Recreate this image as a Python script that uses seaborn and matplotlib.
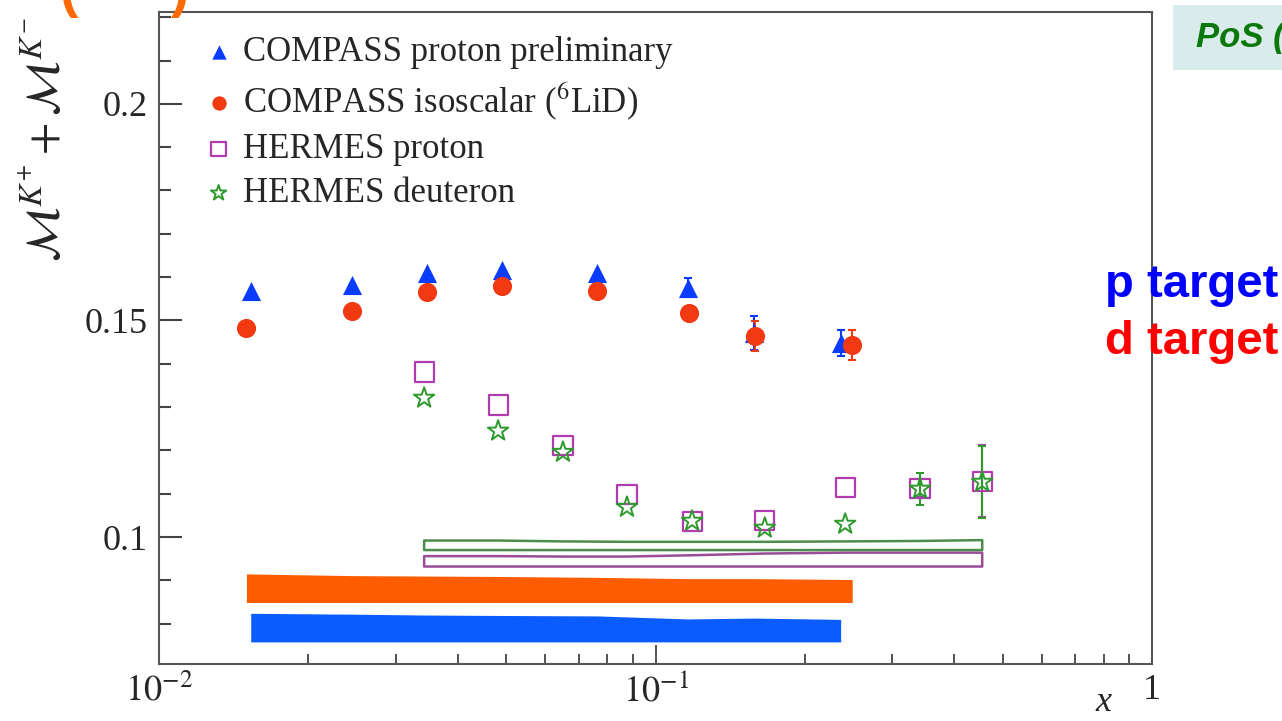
import numpy as np
import matplotlib
matplotlib.use("Agg")
import matplotlib.pyplot as plt
from matplotlib.patches import Rectangle
from matplotlib.ticker import LogLocator, MultipleLocator, NullFormatter
import seaborn as sns

# COMPASS proton preliminary (blue triangles) + its systematic band
cp_x = [0.0153, 0.0245, 0.0347, 0.049, 0.0763, 0.116, 0.158, 0.236]
cp_y = [0.1568, 0.1582, 0.1610, 0.1617, 0.1610, 0.1575, 0.1471, 0.1448]
cp_err = [0.0, 0.0, 0.0, 0.0, 0.0, 0.0022, 0.0040, 0.0030]   # 0 = hidden under the marker
cp_band_lo = [0.0758, 0.0758, 0.0758, 0.0758, 0.0758, 0.0758, 0.0758, 0.0758]
cp_band_hi = [0.0824, 0.0822, 0.0820, 0.0819, 0.0818, 0.0811, 0.0813, 0.0810]

# COMPASS isoscalar 6LiD (red circles) + its systematic band
ci_x = [0.0150, 0.0245, 0.0347, 0.049, 0.0763, 0.117, 0.159, 0.249]
ci_y = [0.1483, 0.1522, 0.1566, 0.1580, 0.1568, 0.1517, 0.1464, 0.1443]
ci_err = [0.0, 0.0, 0.0, 0.0, 0.0, 0.0, 0.0035, 0.0035]
ci_band_lo = [0.0849, 0.0849, 0.0849, 0.0849, 0.0849, 0.0849, 0.0849, 0.0849]
ci_band_hi = [0.0915, 0.0911, 0.0910, 0.0909, 0.0907, 0.0904, 0.0904, 0.0902]

# HERMES proton (open squares) and deuteron (open stars)
h_x = [0.0342, 0.0482, 0.0651, 0.0876, 0.1185, 0.166, 0.241, 0.341, 0.455]
hp_y = [0.1381, 0.1305, 0.1212, 0.1099, 0.1035, 0.1039, 0.1115, 0.1113, 0.1129]
hp_err = [0.0, 0.0, 0.0, 0.0, 0.0, 0.0, 0.0, 0.0020, 0.0083]
hp_band_lo = [0.0932, 0.0932, 0.0932, 0.0932, 0.0932, 0.0932, 0.0932, 0.0932, 0.0932]
hp_band_hi = [0.0956, 0.0956, 0.0955, 0.0955, 0.0958, 0.0962, 0.0964, 0.0964, 0.0964]
hd_y = [0.1321, 0.1245, 0.1196, 0.1069, 0.1037, 0.1021, 0.1030, 0.1111, 0.1127]
hd_err = [0.0, 0.0, 0.0, 0.0, 0.0, 0.0, 0.0, 0.0037, 0.0083]
hd_band_lo = [0.0970, 0.0970, 0.0970, 0.0970, 0.0970, 0.0970, 0.0970, 0.0970, 0.0970]
hd_band_hi = [0.0992, 0.0992, 0.0990, 0.0989, 0.0989, 0.0989, 0.0990, 0.0991, 0.0993]

LABELS = ["COMPASS proton preliminary", r"COMPASS isoscalar ($^{6}$LiD)",
          "HERMES proton", "HERMES deuteron"]

BLUE, RED, MAGENTA, GREEN = "#0a3cff", "#f23a12", "#b03cb0", "#2e9a2e"

sns.set_theme(style="ticks")
plt.rcParams["font.family"] = ["Liberation Serif", "DejaVu Serif"]
plt.rcParams["mathtext.fontset"] = "stix"

fig = plt.figure(figsize=(12.82, 7.21), dpi=100)
ax = fig.add_axes([159 / 1282, 57 / 721, 993 / 1282, 652 / 721])
ax.set_xscale("log")

# systematic bands
ax.fill_between(cp_x, cp_band_lo, cp_band_hi, color="#0a5cff", lw=0, zorder=1)
ax.fill_between(ci_x, ci_band_lo, ci_band_hi, color="#ff5c00", lw=0, zorder=1)
ax.fill_between(h_x, hp_band_lo, hp_band_hi, facecolor="none", edgecolor="#9a4c9a", lw=1.8, zorder=1)
ax.fill_between(h_x, hd_band_lo, hd_band_hi, facecolor="none", edgecolor="#4c8c4c", lw=1.8, zorder=1)

# error bars (only the ones that stick out of the markers)
for xs, ys, es, c in [(cp_x, cp_y, cp_err, BLUE), (ci_x, ci_y, ci_err, RED),
                      (h_x, hp_y, hp_err, MAGENTA), (h_x, hd_y, hd_err, GREEN)]:
    keep = [i for i, e in enumerate(es) if e > 0]
    ax.errorbar([xs[i] for i in keep], [ys[i] for i in keep], yerr=[es[i] for i in keep],
                fmt="none", ecolor=c, elinewidth=1.5, capsize=3, capthick=1.5, zorder=2)

# markers
sns.scatterplot(x=cp_x, y=cp_y, marker="^", s=190, color=BLUE, edgecolor=BLUE, linewidth=0,
                ax=ax, label=LABELS[0], zorder=3)
sns.scatterplot(x=ci_x, y=ci_y, marker="o", s=190, color=RED, edgecolor=RED, linewidth=0,
                ax=ax, label=LABELS[1], zorder=3)
sns.scatterplot(x=h_x, y=hp_y, marker="s", s=190, color=MAGENTA, facecolor="none", edgecolor=MAGENTA,
                linewidth=1.6, ax=ax, label=LABELS[2], zorder=3)
sns.scatterplot(x=h_x, y=hd_y, marker="*", s=240, color=GREEN, facecolor="none", edgecolor=GREEN,
                linewidth=1.4, ax=ax, label=LABELS[3], zorder=3)

ax.set_xlim(0.01, 1)
ax.set_ylim(0.0707, 0.2212)
ax.set_xlabel("")
ax.set_ylabel("")

ax.set_xticks([0.01, 0.1, 1], labels=[r"$10^{-2}$", r"$10^{-1}$", "1"])
ax.xaxis.set_minor_locator(LogLocator(base=10, subs=np.arange(2, 10)))
ax.xaxis.set_minor_formatter(NullFormatter())
ax.set_yticks([0.1, 0.15, 0.2], labels=["0.1", "0.15", "0.2"])
ax.yaxis.set_minor_locator(MultipleLocator(0.01))

ax.tick_params(axis="x", which="major", direction="in", length=14, width=1.3, color="#444",
               labelsize=26, pad=7, top=False)
ax.tick_params(axis="x", which="minor", direction="in", length=7, width=1.3, color="#444", top=False)
ax.tick_params(axis="y", which="major", direction="in", length=16.5, width=1.5, color="#444",
               labelsize=26, pad=8, right=False)
ax.tick_params(axis="y", which="minor", direction="in", length=8.5, width=1.5, color="#444", right=False)
for sp in ax.spines.values():
    sp.set_color("#555")
    sp.set_linewidth(1.5)

ax.text(0.80, -0.072, "x", transform=ax.get_xaxis_transform(), style="italic",
        fontsize=26, ha="center", va="baseline")

ax.legend(loc="upper left", bbox_to_anchor=(0.046, 0.963), frameon=False, fontsize=25,
          handletextpad=0.3, labelspacing=0.32, borderpad=0, borderaxespad=0,
          markerscale=0.75, handlelength=0.8)

# y label (top cut off in the slide)
fig.text(45 / 1282, 1 - 262 / 721, r"$\mathcal{M}^{K^{+}} + \mathcal{M}^{K^{-}}$",
         rotation=90, ha="center", va="bottom", fontsize=34)

# slide decorations around the chart
fig.text(60 / 1282, 1 - 18 / 721, "(      )", color="#ff6a00", fontsize=40, fontweight="bold",
         family="Liberation Sans", ha="left", va="bottom")
fig.add_artist(Rectangle((1173 / 1282, 1 - 70 / 721), 109 / 1282, 65 / 721,
                         transform=fig.transFigure, facecolor="#daebeb", edgecolor="none"))
fig.text(1196 / 1282, 1 - 38 / 721, "PoS (", color="#0a780a", fontsize=25, fontweight="bold",
         style="italic", family="Liberation Sans", ha="left", va="center")
fig.text(1278 / 1282, 1 - 297 / 721, "p target", color="#0000ff", fontsize=34, fontweight="bold",
         family="Liberation Sans", ha="right", va="baseline")
fig.text(1278 / 1282, 1 - 354 / 721, "d target", color="#ff0000", fontsize=34, fontweight="bold",
         family="Liberation Sans", ha="right", va="baseline")

fig.savefig("out.png", dpi=100)
